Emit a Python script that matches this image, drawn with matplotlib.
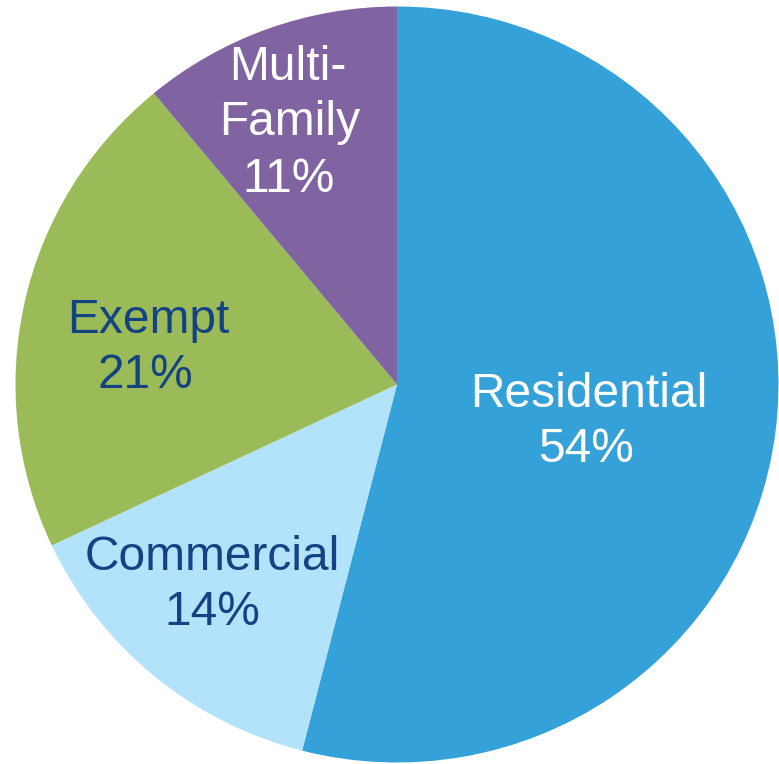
import matplotlib
matplotlib.use("Agg")
import matplotlib.pyplot as plt

# Share of parcels by property class
categories = ["Residential", "Commercial", "Exempt", "Multi-Family"]
shares = [54, 14, 21, 11]

colors = ["#34A2D8", "#B2E3FA", "#9BBB59", "#8064A2"]
text_colors = ["white", "#154283", "#154283", "white"]

# Label lines and their placement (pixel coordinates, baseline per line)
label_lines = [
    ["Residential"],
    ["Commercial"],
    ["Exempt"],
    ["Multi-", "Family"],
]
label_xy = [
    [(589, 407), (586, 462)],
    [(212, 570), (212, 625)],
    [(148, 333), (146, 388)],
    [(288, 80), (290, 135), (289, 192)],
]

W, H = 779, 764
fig = plt.figure(figsize=(W / 100, H / 100), dpi=100)
ax = fig.add_axes([0, 0, 1, 1])

ax.pie(shares, colors=colors, startangle=90, counterclock=False,
       radius=1.0, center=(0, 0), wedgeprops=dict(linewidth=0))

# Map the unit pie onto the canvas (slightly wider than tall)
cx, cy = 397.0, 384.5
rx, ry = 381.5, 378.0
ax.set_aspect("auto")
ax.set_xlim(-cx / rx, (W - cx) / rx)
ax.set_ylim(-(H - cy) / ry, cy / ry)
ax.axis("off")

font = dict(family=["Liberation Sans", "DejaVu Sans"], fontsize=34.5)
for name_lines, v, pos, tc in zip(label_lines, shares, label_xy, text_colors):
    lines = name_lines + [f"{v}%"]
    for txt, (px, py) in zip(lines, pos):
        fig.text(px / W, 1 - py / H, txt, ha="center", va="baseline",
                 color=tc, **font)

fig.savefig("out.png", dpi=100)
